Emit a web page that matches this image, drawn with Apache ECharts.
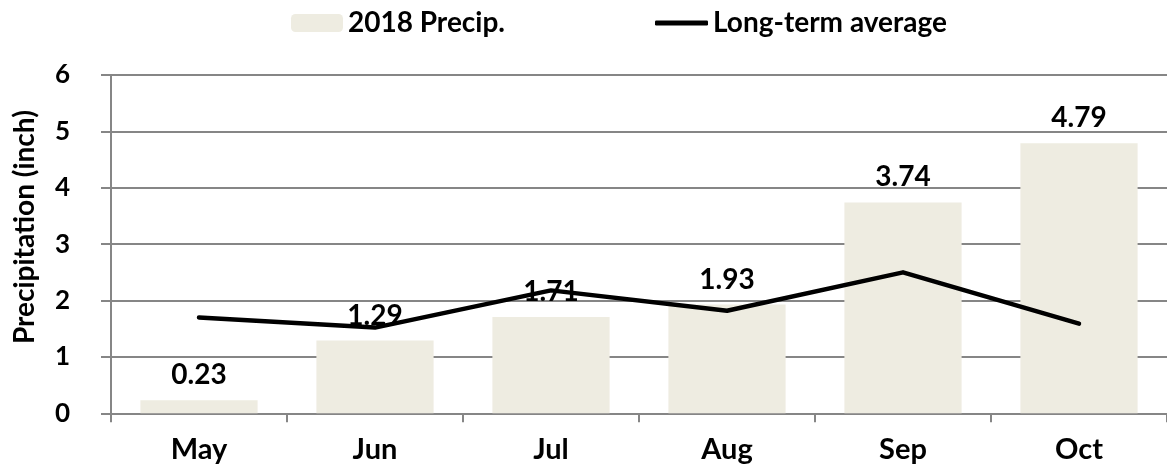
<!DOCTYPE html>
<html>
<head>
<meta charset="utf-8">
<script src="https://cdn.jsdelivr.net/npm/echarts@6/dist/echarts.min.js"></script>
<style>
html,body{margin:0;padding:0;background:#fff;}
#chart{width:1167px;height:472px;}
</style>
</head>
<body>
<div id="chart"></div>
<script>
var months = ['May', 'Jun', 'Jul', 'Aug', 'Sep', 'Oct'];
var precip2018 = [0.23, 1.29, 1.71, 1.93, 3.74, 4.79];
var longTermAvg = [1.70, 1.52, 2.18, 1.82, 2.50, 1.59];
var barName = '2018 Precip.';
var lineName = 'Long-term average';
var yAxisTitle = 'Precipitation (inch)';

var FONT = 'Lato';
var chart = echarts.init(document.getElementById('chart'), null, {renderer: 'canvas'});
chart.setOption({
  animation: false,
  backgroundColor: '#ffffff',
  textStyle: {fontFamily: FONT, fontWeight: 'bold', color: '#000'},
  legend: [
    {
      data: [barName], left: 286, top: 4, itemWidth: 52, itemHeight: 18, itemGap: 6,
      textStyle: {fontFamily: FONT, fontWeight: 'bold', fontSize: 28, color: '#000'}
    },
    {
      data: [{name: lineName, icon: 'roundRect'}], left: 650, top: 4, itemWidth: 53, itemHeight: 5,
      textStyle: {fontFamily: FONT, fontWeight: 'bold', fontSize: 28, color: '#000'}
    }
  ],
  grid: {left: 111, top: 75, width: 1062.5, height: 338.3, containLabel: false},
  xAxis: {
    type: 'category',
    data: months,
    boundaryGap: true,
    axisLine: {show: true, lineStyle: {color: '#868686', width: 2}},
    axisTick: {show: true, length: 9, lineStyle: {color: '#868686', width: 2}},
    axisLabel: {margin: 22, fontFamily: FONT, fontWeight: 'bold', fontSize: 29, color: '#000'}
  },
  yAxis: {
    type: 'value',
    min: 0, max: 6, interval: 1,
    name: yAxisTitle,
    nameLocation: 'middle',
    nameGap: 72,
    nameTextStyle: {fontFamily: FONT, fontWeight: 'bold', fontSize: 28, color: '#000', padding: [0, 0, 0, 34]},
    axisLine: {show: true, lineStyle: {color: '#868686', width: 2}},
    axisTick: {show: true, length: 10, lineStyle: {color: '#868686', width: 2}},
    axisLabel: {margin: 41, fontFamily: FONT, fontWeight: 'bold', fontSize: 26, color: '#000'},
    splitLine: {show: true, lineStyle: {color: '#868686', width: 2}}
  },
  series: [
    {
      name: barName,
      type: 'bar',
      data: precip2018,
      barWidth: '66.6%',
      itemStyle: {color: '#EEECE1'},
      label: {
        show: true, position: 'top', distance: 11,
        fontFamily: FONT, fontWeight: 'bold', fontSize: 28, color: '#000',
        formatter: function (p) { return p.value.toFixed(2); }
      },
      z: 2
    },
    {
      name: lineName,
      type: 'line',
      data: longTermAvg,
      symbol: 'none',
      lineStyle: {color: '#000', width: 4.5, cap: 'round', join: 'round'},
      itemStyle: {color: '#000'},
      z: 3
    }
  ]
});
</script>
</body>
</html>
